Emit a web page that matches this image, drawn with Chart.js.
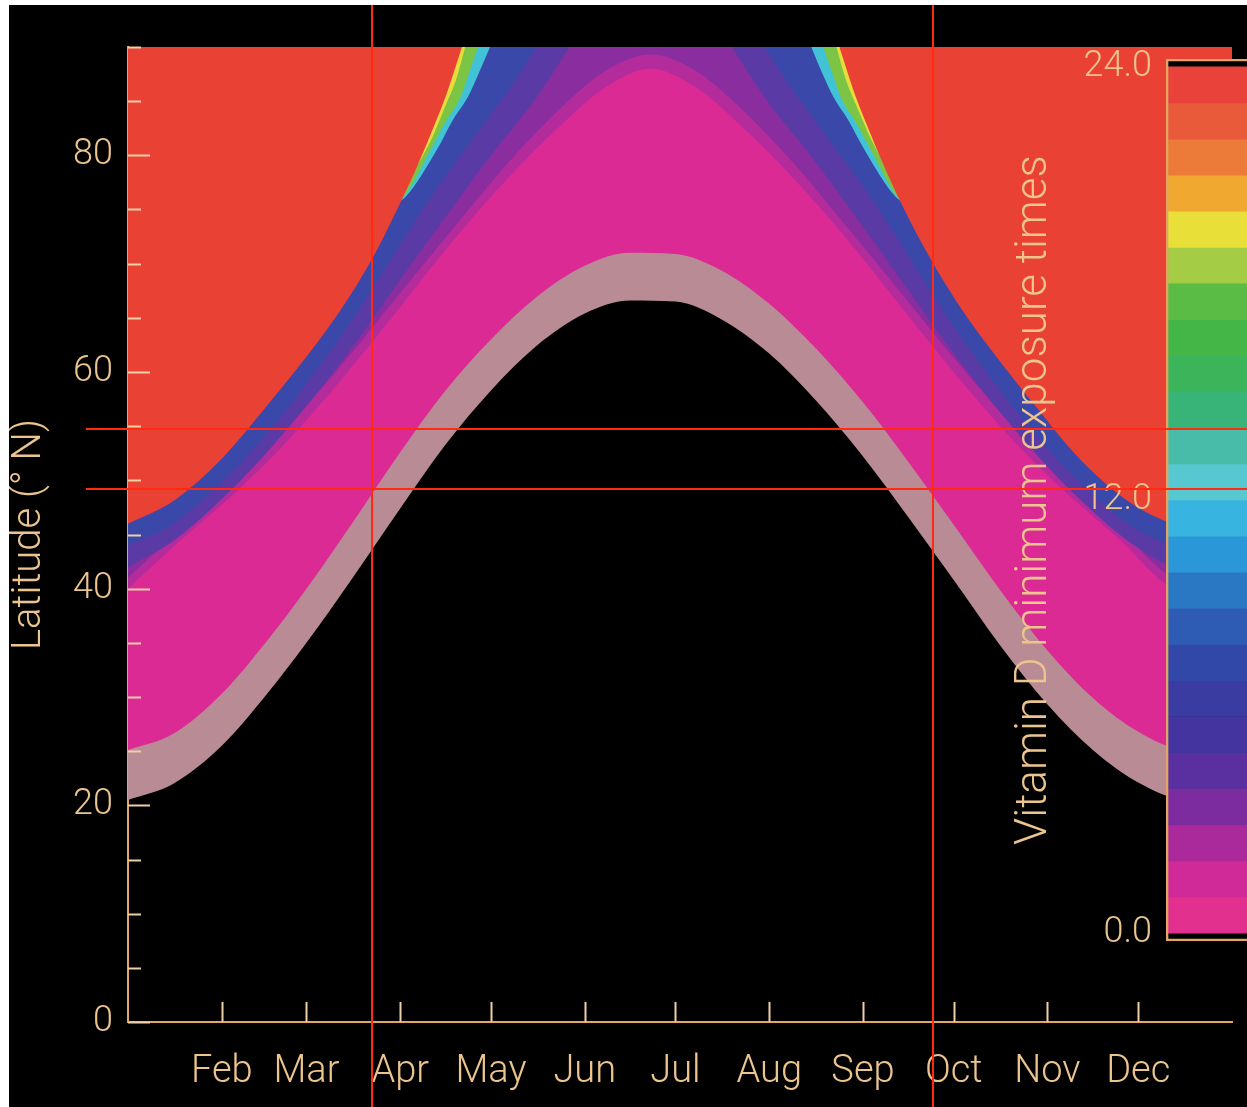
<!DOCTYPE html>
<html><head><meta charset="utf-8">
<script src="https://cdn.jsdelivr.net/npm/chart.js@4.4.1/dist/chart.umd.min.js"></script>
<style>
html,body{margin:0;padding:0;background:#fff;}
#wrap{position:absolute;left:9px;top:5px;width:1238px;height:1102px;background:#000;overflow:hidden;}
#wrap canvas{position:absolute;left:0;top:0;}
</style></head><body>
<div id="wrap"><canvas id="main" width="1238" height="1102"></canvas><canvas id="cbar" width="1238" height="1102"></canvas></div>
<script>
// ---------- data (day of year -> latitude; null = curve leaves the top of the plot) ----------
const monthStarts = [31, 59, 90, 120, 151, 181, 212, 243, 273, 304, 334];
const monthLabels = ['Feb','Mar','Apr','May','Jun','Jul','Aug','Sep','Oct','Nov','Dec'];
const latTicksLabelled = [0, 20, 40, 60, 80];

// lower edge of the red (24 h) region
const redDays = [0,15,31,46,59,70,81,90,95,100,105,110.4,172.8,235.2,240.6,245.6,250.6,255.6,264.6,275.6,286.6,299.6,314.6,330.6,345.6,355,365];
const redLat  = [46.0,48.1,52.0,56.9,61.4,65.6,70.6,75.6,78.6,81.9,85.4,90,null,90,85.4,81.9,78.6,75.6,70.8,65.8,61.6,57.0,52.0,48.1,46.0,45.7,45.9];
// lower edge of the thin yellow strip
const yelDays = [90,100,105,108.5,111.5,172.8,234.2,237.3,240.8,246,256];
const yelLat  = [76.5,81.3,84.6,87.0,90,null,90,87.0,84.6,81.3,76.5];
// lower edge of the green strip
const grnDays = [88,91,100.8,105,109.8,113,115.7,172.8,229.9,232.6,235.8,240.5,244.8,254.5,257.5];
const grnLat  = [75.5,76.1,80.9,83.1,85.3,87.8,90,null,90,87.8,85.3,83.1,80.9,76.1,75.5];
// lower edge of the cyan strip
const cyaDays = [88,91.6,102.5,107.5,112.4,116,119.7,172.8,225.9,229.5,233.2,238,243.1,254,257.5];
const cyaLat  = [75.5,76.1,80.7,83.3,85.4,87.6,90,null,90,87.6,85.4,83.3,80.7,76.1,75.5];
// lower edge of the blue band
const bluDays = [0,15,30,45,60,75,90,100,110,120,128,135,172.8,210.6,217.6,225.6,235.6,245.6,255.6,270.6,285.6,300.6,315.6,330.6,345.6,355,365];
const bluLat  = [44.0,46.0,49.6,54.0,59.3,65.2,71.8,76.1,80.0,83.8,86.9,90,null,90,86.9,83.8,80.0,76.1,71.8,65.2,59.3,54.0,49.6,46.0,44.0,43.6,43.9];
// lower edge of the violet band
const vioDays = [0,15,30,45,60,75,90,105,120,135,146,172.8,199.6,210.6,225.6,240.6,255.6,270.6,285.6,300.6,315.6,330.6,345.6,355,365];
const vioLat  = [42.0,44.4,48.0,52.3,57.2,62.6,68.5,74.3,80.0,85.3,90,null,90,85.3,80.0,74.3,68.5,62.6,57.2,52.3,48.0,44.4,42.0,41.6,41.9];
// lower edge of the purple band
const purDays = [0,18,36,54,72,90,108,126,144,158,172.8,187.6,201.6,219.6,237.6,255.6,273.6,291.6,309.6,327.6,345.6,355,365];
const purLat  = [41.0,45.6,50.1,55.3,61.1,67.3,73.4,79.4,84.6,87.8,89.3,87.8,84.6,79.4,73.4,67.3,61.1,55.3,50.1,45.6,41.0,40.6,40.9];
// lower edge of the purple-magenta transition (start of magenta)
const pmgDays = [0,18,36,54,72,90,108,126,144,158,172.8,187.6,201.6,219.6,237.6,255.6,273.6,291.6,309.6,327.6,345.6,355,365];
const pmgLat  = [40.0,44.6,49.0,54.0,59.8,66.0,72.3,78.0,83.0,86.3,88.0,86.3,83.0,78.0,72.3,66.0,59.8,54.0,49.0,44.6,40.0,39.6,39.9];
// upper edge of the grey band
const gryTopDays = [0,15,31,46,59,74,90,105,120,135,151,166,181,196,212,227,243,258,273,288,304,319,334,349,365];
const gryTopLat  = [25.1,26.6,30.3,35.2,40.0,46.0,52.6,58.3,63.0,66.9,69.8,71.0,70.9,69.4,66.3,62.3,57.2,51.7,45.9,40.0,34.3,29.9,26.8,25.2,25.3];
// lower edge of the grey band (black below)
const gryBotDays = gryTopDays;
const gryBotLat  = [20.5,22.0,25.5,30.3,35.0,40.9,47.4,53.3,58.3,62.4,65.4,66.6,66.5,64.9,61.7,57.5,52.2,46.6,40.8,34.9,29.3,25.1,22.1,20.6,20.7];

// reference lines
const markerDays = [80.7, 266.0];
const markerLats = [54.7, 49.2];

// colour bar (hours)
const cbarTicks = [0, 12, 24];
const cbarHours = [0,1,2,3,4,5,6,7,8,9,10,11,12,13,14,15,16,17,18,19,20,21,22,23,24];
const cbarColors = ['#e2308e','#d02a98','#aa2a9c','#7c2c9e','#5a30a0','#4434a0','#3a3ca2','#3248a8','#2e5cb4','#2a78c4','#2a98d8','#38b4e0',
                    '#58c8d0','#48bca8','#38b478','#3cb45a','#44b648','#5abc44','#a4cc44','#e8e038','#f0a830','#ec7a38','#e85a3a','#e8423a'];

// ---------- style ----------
const FONT = 'Roboto, "DejaVu Sans", sans-serif';
const TXT = '#ecc48e';
const AXIS = '#e3a464';
const TICK = '#efcfa8';

const layers = [
  {days: redDays, lat: redLat, color: '#e94234'},
  {days: yelDays, lat: yelLat, color: '#e6dc3c'},
  {days: grnDays, lat: grnLat, color: '#7cc444'},
  {days: cyaDays, lat: cyaLat, color: '#42c2d6'},
  {days: bluDays, lat: bluLat, color: '#3a49a9'},
  {days: vioDays, lat: vioLat, color: '#5a3ba6'},
  {days: purDays, lat: purLat, color: '#8a2e9f'},
  {days: pmgDays, lat: pmgLat, color: '#b42c9b'},
  {days: gryTopDays, lat: gryTopLat, color: '#dc2a94'},
  {days: gryBotDays, lat: gryBotLat, color: '#b98c95'}
];

const datasets = layers.map(L => ({
  type: 'line',
  data: L.days.map((d, i) => ({x: d, y: L.lat[i]})),
  backgroundColor: L.color,
  borderWidth: 0,
  pointRadius: 0,
  fill: 'end',
  spanGaps: false,
  cubicInterpolationMode: 'monotone'
}));

const innerTicks = {
  id: 'innerTicks',
  afterDatasetsDraw(chart) {
    const {ctx, chartArea, scales} = chart;
    ctx.save();
    ctx.strokeStyle = TICK;
    ctx.lineWidth = 2;
    scales.y.ticks.forEach(t => {
      const py = Math.round(scales.y.getPixelForValue(t.value)) + 0.5;
      const len = latTicksLabelled.includes(t.value) ? 22 : 13;
      ctx.beginPath(); ctx.moveTo(chartArea.left, py); ctx.lineTo(chartArea.left + len, py); ctx.stroke();
    });
    scales.x.ticks.forEach(t => {
      const px = Math.round(scales.x.getPixelForValue(t.value)) + 0.5;
      ctx.beginPath(); ctx.moveTo(px, chartArea.bottom); ctx.lineTo(px, chartArea.bottom - 20); ctx.stroke();
    });
    ctx.restore();
  }
};

const mainChart = new Chart(document.getElementById('main'), {
  type: 'line',
  data: {datasets},
  options: {
    responsive: false, animation: false, devicePixelRatio: 1,
    events: [],
    layout: {padding: {left: 0, top: 42, right: 15, bottom: 0}},
    plugins: {legend: {display: false}, tooltip: {enabled: false}},
    scales: {
      x: {
        type: 'linear', min: 0, max: 365,
        afterFit(s) { s.height = 85; },
        afterBuildTicks(s) { s.ticks = monthStarts.map(v => ({value: v})); },
        grid: {display: false, drawTicks: false},
        border: {display: true, color: AXIS, width: 2},
        ticks: {
          autoSkip: false, maxRotation: 0, padding: 28, color: TXT,
          font: {family: FONT, size: 38, weight: 300},
          callback: (v) => monthLabels[monthStarts.indexOf(v)]
        }
      },
      y: {
        type: 'linear', min: 0, max: 90,
        afterFit(s) { s.width = 119; },
        grid: {display: false, drawTicks: false},
        border: {display: true, color: AXIS, width: 2},
        ticks: {
          stepSize: 5, autoSkip: false, padding: 15, color: TXT,
          font: {family: FONT, size: 36, weight: 300},
          callback: (v) => latTicksLabelled.includes(v) ? String(v) : ''
        },
        title: {
          display: true, text: 'Latitude (° N)', color: TXT,
          font: {family: FONT, size: 40, weight: 300, lineHeight: 1},
          padding: {top: 1, bottom: 0}
        }
      }
    }
  },
  plugins: [innerTicks]
});

// ---------- colour bar ----------
const CB_MIN = -0.22, CB_MAX = 24.22;
const cbDatasets = [];
cbDatasets.push({
  data: [[CB_MIN, CB_MAX]], backgroundColor: 'rgba(0,0,0,0)',
  borderColor: AXIS, borderWidth: {left: 2, top: 2, bottom: 2, right: 0}, borderSkipped: false
});
for (let i = cbarColors.length - 1; i >= 0; i--) {
  cbDatasets.push({data: [[cbarHours[i], cbarHours[i + 1]]], backgroundColor: cbarColors[i], borderWidth: 0});
}
cbDatasets.push({data: [[CB_MIN, CB_MAX]], backgroundColor: '#000', borderWidth: 0});

const refLines = {
  id: 'refLines',
  afterDraw(chart) {
    const ctx = chart.ctx;
    const mx = mainChart.scales.x, my = mainChart.scales.y;
    ctx.save();
    ctx.strokeStyle = '#ff2a10';
    ctx.lineWidth = 2;
    markerDays.forEach(d => {
      const px = Math.round(mx.getPixelForValue(d));
      ctx.beginPath(); ctx.moveTo(px, 0); ctx.lineTo(px, chart.height); ctx.stroke();
    });
    markerLats.forEach(l => {
      const py = Math.round(my.getPixelForValue(l));
      ctx.beginPath(); ctx.moveTo(77, py); ctx.lineTo(chart.width, py); ctx.stroke();
    });
    ctx.restore();
  }
};

new Chart(document.getElementById('cbar'), {
  type: 'bar',
  data: {labels: [''], datasets: cbDatasets},
  options: {
    responsive: false, animation: false, devicePixelRatio: 1,
    events: [],
    layout: {padding: {left: 980, top: 54, right: 0, bottom: 166}},
    datasets: {bar: {grouped: false, barPercentage: 1, categoryPercentage: 1}},
    plugins: {legend: {display: false}, tooltip: {enabled: false}},
    scales: {
      x: {display: false, afterFit(s) { s.height = 0; }},
      y: {
        type: 'linear', min: CB_MIN, max: CB_MAX,
        afterFit(s) { s.width = 177; },
        afterBuildTicks(s) { s.ticks = cbarTicks.map(v => ({value: v})); },
        grid: {display: false, drawTicks: false},
        border: {display: false},
        ticks: {padding: 14, color: TXT, font: {family: FONT, size: 36, weight: 300},
          callback: (v) => Number(v).toFixed(1)},
        title: {
          display: true, text: 'Vitamin D minimum exposure times', color: TXT,
          font: {family: FONT, size: 44, weight: 300, lineHeight: 1},
          padding: {top: 24, bottom: 0}
        }
      }
    }
  },
  plugins: [refLines]
});
</script></body></html>
